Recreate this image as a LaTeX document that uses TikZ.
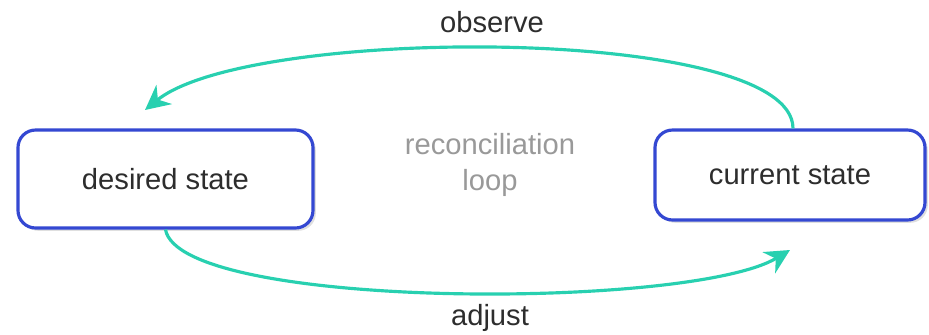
\documentclass[tikz,border=0pt]{standalone}
\usepackage{fontspec}
\setmainfont{Liberation Sans}
\usetikzlibrary{shadows}
\usetikzlibrary{arrows.meta}
\usetikzlibrary{calc}
\definecolor{boxblue}{RGB}{52,72,210}
\definecolor{loopteal}{RGB}{40,208,176}
\definecolor{txtgray}{RGB}{45,45,45}
\tikzstyle{statebox}=[rectangle,draw=boxblue,line width=0.9pt,fill=white,rounded corners=5pt,
  drop shadow={opacity=0.25,shadow xshift=0.8pt,shadow yshift=-0.8pt},
  text=txtgray,font=\fontsize{8.3}{10}\selectfont,inner sep=0pt]
\tikzstyle{loopedge} = [draw,loopteal,line width=0.9pt,-{Stealth[length=7pt,width=7pt]}]
\tikzstyle{label} = [text=txtgray,font=\fontsize{8.3}{10}\selectfont]

\begin{document}
\begin{tikzpicture}
    \useasboundingbox (0,0) rectangle (9.29,3.34);

    \node[statebox,minimum width=2.95cm,minimum height=0.98cm] (desired) at (1.655,1.55) {desired state};
    \node[statebox,minimum width=2.70cm,minimum height=0.90cm] (current) at (7.90,1.59) {current state};

    \node[label,text=black!40,align=center] (loop) at (4.90,1.69) {reconciliation\\loop};

    % observe: current -> desired
    \coordinate (obsend) at (1.45,2.24);
    \path[loopedge] ($(current.north)+(0.03,0)$) .. controls (7.93,3.09) and (2.50,3.09) .. (obsend);
    \node[label] (observe) at (4.92,3.12) {observe};

    % adjust: desired -> current
    \coordinate (adjend) at (7.90,0.84);
    \path[loopedge] (desired.south) .. controls (1.80,0.24) and (6.90,0.24) .. (adjend);
    \node[label] (adjust) at (4.90,0.16) {adjust};

\end{tikzpicture}
\end{document}
